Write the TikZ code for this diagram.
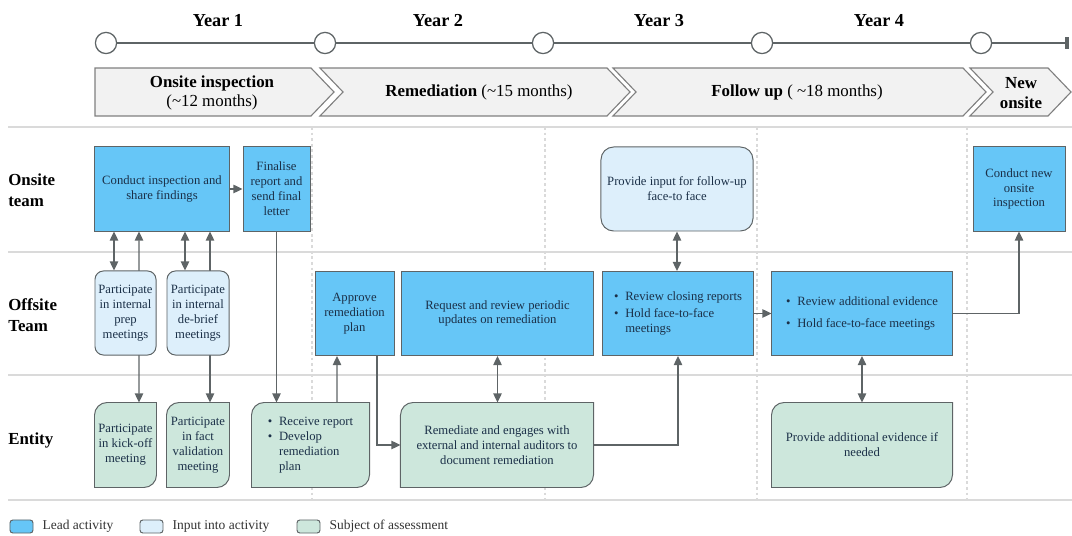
\documentclass[tikz,border=0pt]{standalone}
\usepackage{fontspec}
\setmainfont{Liberation Serif}
\usetikzlibrary{arrows.meta, positioning, calc, backgrounds}

\definecolor{leadblue}{HTML}{66C6F7}
\definecolor{inputblue}{HTML}{DDEFFB}
\definecolor{subjgreen}{HTML}{CDE7DC}
\definecolor{edgegray}{HTML}{5E6466}
\definecolor{inktext}{HTML}{1B3048}
\definecolor{rulegray}{HTML}{DADADA}
\definecolor{phasefill}{HTML}{F2F2F2}

\newcommand{\bl}{\makebox[8pt][l]{\textbullet}} % bullet of a list line
\newcommand{\bi}{\hspace*{8pt}} % hanging indent of a list line

\tikzset{
    box/.style={draw=edgegray, line width=0.7pt, text=inktext, align=center, inner sep=1.5pt,
        font=\fontsize{9}{10.6}\selectfont, minimum height=2.1cm}, % every activity box
    lead/.style={box, fill=leadblue},
    input/.style={box, fill=inputblue, rounded corners=6pt},
    subject/.style={box, draw=none}, % outline is drawn below with two round corners
    tip/.tip={Triangle[length=6.5pt, width=6pt]},
    link/.style={draw=edgegray, line width=1pt, -tip},
    twoway/.style={link, tip-tip},
    phase/.style={draw=gray, fill=phasefill, line width=0.8pt},
    phasetext/.style={align=center, font=\fontsize{12}{14}\selectfont},
    lane/.style={anchor=west, align=left, inner sep=0pt, font=\bfseries\fontsize{12}{15}\selectfont},
    year/.style={font=\bfseries\fontsize{13}{15}\selectfont},
    mile/.style={circle, draw=edgegray, fill=white, line width=0.9pt, minimum size=0.53cm, inner sep=0pt},
    sep/.style={draw=rulegray, line width=0.9pt},
    col/.style={draw=rulegray, line width=0.8pt, dash pattern=on 2pt off 2pt},
    key/.style={minimum width=0.575cm, minimum height=0.325cm, rounded corners=2pt, line width=0.7pt, inner sep=0pt},
    keytext/.style={right=0.22cm of #1, inner sep=0pt, font=\fontsize{9.6}{11}\selectfont, text=black!80},
}

\begin{document}
\begin{tikzpicture}[x=0.025cm, y=-0.025cm]
\useasboundingbox (0,0) rectangle (1072,536);

% timeline
\node[mile] (m1) at (106,43) {};
\node[mile] (m2) at (325,43) {};
\node[mile] (m3) at (543,43) {};
\node[mile] (m4) at (762,43) {};
\node[mile] (m5) at (981,43) {};
\coordinate (tlend) at (1069,43);
\node[year] (y1) at (218,21) {Year 1};
\node[year] (y2) at (438,21) {Year 2};
\node[year] (y3) at (659,21) {Year 3};
\node[year] (y4) at (879,21) {Year 4};

% phases
\draw[phase] (95,68) -- (311,68) -- ++(23,24) -- ++(-23,24) -- (95,116) -- cycle;
\foreach \l/\r in {320/607, 613/963, 970/1048}
    \draw[phase] (\l,68) -- (\r,68) -- ++(23,24) -- ++(-23,24) -- (\l,116) -- ++(23,-24) -- cycle;
\node[phasetext] (ph1) at (212,93) {\textbf{Onsite inspection}\\(\textasciitilde12 months)};
\node[phasetext] (ph2) at (479,92) {\textbf{Remediation} (\textasciitilde15 months)};
\node[phasetext] (ph3) at (797,92) {\textbf{Follow up} ( \textasciitilde18 months)};
\node[phasetext] (ph4) at (1021,93) {\textbf{New}\\\textbf{onsite}};

% lanes
\node[lane] (lane1) at (8,190) {Onsite\\team};
\node[lane] (lane2) at (8,315) {Offsite\\Team};
\node[lane] (lane3) at (8,440) {Entity};

% onsite team
\node[lead, minimum width=3.35cm] (conduct) at (162,189) {Conduct inspection and\\share findings};
\node[lead, minimum width=1.675cm] (final) at (276.5,189) {Finalise\\report and\\send final\\letter};
\node[input, minimum width=3.8cm, rounded corners=9pt] (askinput) at (677,189) {Provide input for follow-up\\face-to face};
\node[lead, minimum width=2.3cm] (newinsp) at (1019,189) {Conduct new\\onsite\\inspection};

% offsite team
\node[input, minimum width=1.525cm] (prep) at (125.5,313) {Participate\\in internal\\prep\\meetings};
\node[input, minimum width=1.55cm] (debrief) at (198,313) {Participate\\in internal\\de-brief\\meetings};
\node[lead, minimum width=1.975cm] (approve) at (354.5,313.5) {Approve\\remediation\\plan};
\node[lead, minimum width=4.775cm] (request) at (497.5,313.5) {Request and review periodic\\updates on remediation};
\node[lead, minimum width=3.75cm, align=left] (closing) at (678,313.5)
    {\bl Review closing reports\\[2pt]\bl Hold face-to-face\\\bi meetings};
\node[lead, minimum width=4.5cm, align=left] (addrev) at (862,313.5)
    {\bl Review additional evidence\\[5pt]\bl Hold face-to-face meetings};

% entity
\node[subject, minimum width=1.525cm] (kickoff) at (125.5,445) {Participate\\in kick-off\\meeting};
\node[subject, minimum width=1.55cm] (factval) at (198,445) {Participate\\in fact\\validation\\meeting};
\node[subject, minimum width=2.925cm, align=left] (recv) at (310.5,445)
    {\bl Receive report\\\bl Develop\\\bi remediation\\\bi plan};
\node[subject, minimum width=4.8cm] (remed) at (497,445) {Remediate and engages with\\external and internal auditors to\\document remediation};
\node[subject, minimum width=4.5cm] (addev) at (862,445) {Provide additional evidence if\\needed};

% legend
\node[key, draw=edgegray, fill=leadblue] (keylead) at (21.5,526.5) {};
\node[keytext=keylead] (txtlead) {Lead activity};
\node[key, draw=edgegray, fill=inputblue] (keyinput) at (151.5,526.5) {};
\node[keytext=keyinput] (txtinput) {Input into activity};
\node[key, draw=edgegray, fill=subjgreen] (keysubj) at (308.5,526.5) {};
\node[keytext=keysubj] (txtsubj) {Subject of assessment};

\begin{pgfonlayer}{background}
    \draw[edgegray, line width=1.3pt, -{Rectangle[length=2.5pt, width=8pt]}] (m1.center) -- (tlend);
    \foreach \yy in {127,252,375,500}
        \draw[sep] (8,\yy) -- (1072,\yy);
    \foreach \xx in {312,545,757,967}
        \draw[col] (\xx,127) -- (\xx,500);
    \foreach \n in {kickoff,factval,recv,remed,addev}
        \draw[draw=edgegray, fill=subjgreen, line width=0.7pt]
            (\n.north) [rounded corners=9pt] -- (\n.north west) [sharp corners] -- (\n.south west)
            [rounded corners=9pt] -- (\n.south east) [sharp corners] -- (\n.north east) -- cycle;
    % these two pass behind the input boxes
    \draw[twoway] ($(conduct.south)+(-23,0)$) -- ($(kickoff.north)+(13.5,0)$);
    \draw[twoway] ($(conduct.south)+(48,0)$) -- ($(factval.north)+(12,0)$);
\end{pgfonlayer}

\draw[link] (conduct) -- (final);
\draw[twoway] ($(conduct.south)+(-48,0)$) -- ($(prep.north)+(-11.5,0)$);
\draw[twoway] ($(conduct.south)+(23,0)$) -- ($(debrief.north)+(-13,0)$);
\draw[link] (final.south) -- (final.south |- recv.north);
\draw[link] ($(recv.north)+(26.5,0)$) -- ($(approve.south)+(-17.5,0)$);
\draw[link] ($(approve.south)+(22.5,0)$) |- (remed.west);
\draw[twoway] (request.south) -- (request.south |- remed.north);
\draw[link] (remed.east) -| (closing.south);
\draw[twoway] (askinput.south) -- (askinput.south |- closing.north);
\draw[link] (closing) -- (addrev);
\draw[twoway] (addrev) -- (addev);
\draw[link] (addrev.east) -| (newinsp.south);
\end{tikzpicture}
\end{document}
